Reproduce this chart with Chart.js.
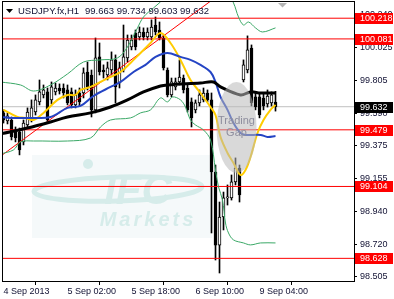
<!DOCTYPE html>
<html>
<head>
<meta charset="utf-8">
<script src="https://cdn.jsdelivr.net/npm/chart.js@4.4.1/dist/chart.umd.min.js"></script>
<style>
html,body{margin:0;padding:0;background:#fff;}
canvas{display:block;}
</style>
</head>
<body>
<canvas id="c" width="394" height="299"></canvas>
<script>
// ---- data (USDJPY.fx, H1) ----
const opens  = [99.591,99.538,99.544,99.478,99.465,99.399,99.511,99.544,99.597,99.664,99.710,99.730,99.677,99.730,99.756,99.756,99.743,99.730,99.644,99.723,
                99.723,99.862,99.842,99.611,99.962,99.875,99.842,99.875,99.942,99.789,99.875,99.955,100.028,100.120,100.094,100.127,100.094,100.094,100.173,100.140,
                100.087,99.875,99.710,99.763,99.796,99.822,99.756,99.664,99.611,99.657,99.677,99.723,99.677,99.200,98.716,98.902,99.028,99.028,99.134,99.226,
                99.809,99.875,100.021,99.697,99.697,99.690,99.650,99.657,99.663];
const highs  = [99.611,99.591,99.564,99.498,99.491,99.544,99.624,99.677,99.710,99.809,99.776,99.756,99.796,99.789,99.783,99.783,99.776,99.756,99.743,99.756,
                99.889,99.928,99.875,100.087,100.054,99.909,99.928,99.995,99.975,99.928,100.173,100.107,100.107,100.140,100.160,100.154,100.154,100.207,100.226,100.193,
                100.107,99.889,99.822,99.822,99.942,99.842,99.776,99.690,99.677,99.743,99.756,99.743,99.723,99.246,99.001,99.067,99.114,99.180,99.293,99.246,
                99.942,100.101,100.041,99.723,99.716,99.723,99.743,99.730,99.734];
const lows   = [99.524,99.518,99.412,99.399,99.313,99.379,99.491,99.531,99.577,99.644,99.690,99.531,99.650,99.710,99.716,99.690,99.644,99.624,99.624,99.637,
                99.690,99.743,99.564,99.591,99.842,99.822,99.809,99.842,99.657,99.756,99.862,99.928,100.008,100.008,100.074,100.074,100.074,100.074,100.107,100.074,
                99.875,99.697,99.697,99.743,99.776,99.723,99.597,99.498,99.591,99.637,99.664,99.664,98.796,98.617,98.531,98.816,98.981,99.014,99.114,99.001,
                99.796,99.856,99.637,99.611,99.558,99.611,99.630,99.637,99.603];
const closes = [99.544,99.571,99.432,99.425,99.346,99.524,99.597,99.624,99.677,99.730,99.743,99.544,99.763,99.756,99.736,99.723,99.657,99.644,99.710,99.664,
                99.856,99.763,99.611,99.955,99.862,99.862,99.889,99.942,99.763,99.889,99.962,100.074,100.074,100.028,100.127,100.094,100.127,100.160,100.127,100.087,
                99.889,99.710,99.796,99.796,99.829,99.743,99.611,99.558,99.657,99.710,99.723,99.677,99.200,98.716,98.902,99.028,99.034,99.134,99.226,99.048,
                99.909,100.008,99.657,99.630,99.577,99.637,99.703,99.710,99.632];

// indicator lines: [bar index, price]
const maFast = [[0,99.611],[3.5,99.564],[5.5,99.558],[7.5,99.544],[10,99.591],[13.5,99.677],[16,99.710],[18,99.710],[19.25,99.743],[21.75,99.763],
                [24.25,99.796],[26.75,99.829],[29.25,99.862],[31.75,99.922],[34.25,99.988],[36.75,100.054],[39.25,100.120],[41.75,100.054],[44.25,99.942],
                [46.75,99.809],[49.25,99.723],[51.75,99.630],[53,99.577],[54.25,99.432],[56,99.326],[57.5,99.260],[59.25,99.180],[60.5,99.213],[61.75,99.299],
                [63.5,99.458],[65,99.544],[66.75,99.611],[68,99.644]];
const maMid  = [[-0.75,99.564],[1.75,99.558],[7.5,99.558],[11.75,99.564],[16,99.624],[19.25,99.637],[22.5,99.703],[26.75,99.763],[29.25,99.796],
                [32.5,99.862],[35.5,99.909],[38,99.962],[41,99.988],[44.25,99.962],[46.75,99.942],[49.25,99.909],[51.75,99.862],[53,99.796],[54.25,99.697],
                [56,99.611],[57.5,99.524],[59.25,99.458],[60.5,99.445],[64.25,99.445],[66,99.432],[68,99.438]];
const maSlow = [[-0.75,99.452],[6,99.491],[11.75,99.531],[16,99.564],[21.75,99.591],[26.75,99.630],[31,99.677],[35,99.730],[39.25,99.769],[41,99.776],
                [49.25,99.789],[52.5,99.796],[54.25,99.763],[59.25,99.710],[61.75,99.730],[64.25,99.723],[68,99.723]];
const bandUp = [[-0.75,99.796],[4.25,99.776],[7.5,99.736],[11.75,99.776],[16,99.849],[20,99.928],[24.25,99.942],[28.5,99.955],[31,100.028],[33.5,100.154],
                [35,100.226],[37.5,100.286],[39.25,100.326],[43,100.418],[49.25,100.471],[55.5,100.405],[57.5,100.319],[58.75,100.226],[60,100.173],
                [61.25,100.193],[63,100.154],[64.75,100.127],[68,100.154]];
const bandLow= [[-0.75,99.319],[2.5,99.346],[4.25,99.399],[7.5,99.405],[16,99.405],[21.75,99.425],[24.25,99.498],[26.75,99.544],[31.75,99.558],
                [34.25,99.591],[36.75,99.611],[39.25,99.690],[41,99.664],[42.25,99.697],[44.25,99.677],[45.5,99.630],[46.75,99.544],[48,99.511],[50,99.478],
                [51.75,99.412],[53,99.213],[53.75,99.101],[54.75,99.015],[55.5,98.862],[56.25,98.796],[57.5,98.750],[60,98.730],[61.75,98.717],[64.25,98.730],[68,98.730]];
const trendLine = [[-1,99.299],[56,100.414]];
const levels = [100.218, 100.081, 99.479, 99.104, 98.628];
const lastPrice = 99.632;
const yTicks = [100.240, 100.025, 99.805, 99.590, 99.375, 99.155, 98.940, 98.720, 98.505];
const xTickPos = [0, 16, 32, 48, 64];
const xTickLabels = ['4 Sep 2013', '5 Sep 02:00', '5 Sep 18:00', '6 Sep 10:00', '9 Sep 04:00'];
const title = 'USDJPY.fx,H1';
const titleQuote = '99.663 99.734 99.603 99.632';
const gapNote = {x: 58.25, y: 99.494, rx: 5, ry: 0.301, lines: ['Trading', 'Gap']};

// ---- build ----
const FONT = 'Liberation Sans, Arial, sans-serif';
const pts = a => a.map(p => ({x: p[0], y: p[1]}));
const idx = opens.map((_, i) => i);
const lineDs = (data, color, w, extra) => Object.assign({
  type: 'line', data: pts(data), borderColor: color, borderWidth: w, pointRadius: 0,
  tension: 0.35, fill: false, order: -1
}, extra || {});

const datasets = [
  {type:'bar', data: idx.map(i => ({x:i, y:[lows[i], highs[i]]})), backgroundColor:'#000', borderWidth:0,
   barThickness:1, grouped:false, order:3},
  {type:'bar', data: idx.map(i => ({x:i, y:[opens[i], closes[i]]})),
   backgroundColor: idx.map(i => closes[i] >= opens[i] ? '#fff' : '#000'),
   borderColor:'#000', borderWidth:1, borderSkipped:false, barThickness:3, minBarLength:1, grouped:false, order:2},
  lineDs(bandUp, '#3aa866', 1),
  lineDs(bandLow, '#3aa866', 1),
  lineDs(maSlow, '#000', 3),
  lineDs(maMid, '#2444c4', 2),
  lineDs(maFast, '#ffcc00', 2),
  lineDs(trendLine, '#ff0000', 1, {tension:0}),
  lineDs([[-1,lastPrice],[90,lastPrice]], '#c0c0c0', 1, {tension:0, order:4}),
];
levels.forEach(l => datasets.push(lineDs([[-1,l],[90,l]], '#ff0000', 1, {tension:0})));

const deco = {
  id: 'deco',
  beforeDatasetsDraw(chart) {
    const ctx = chart.ctx;
    ctx.save();
    // watermark
    ctx.fillStyle = '#f5f9fa';
    ctx.fillRect(32, 155, 180, 83);
    ctx.strokeStyle = '#d6ecea';
    ctx.lineWidth = 5;
    ctx.beginPath();
    ctx.ellipse(118, 189, 84, 12, -0.03, 0, Math.PI * 2);
    ctx.stroke();
    ctx.fillStyle = '#d6ecea';
    ctx.font = 'bold italic 42px ' + FONT;
    ctx.textAlign = 'center';
    ctx.textBaseline = 'alphabetic';
    ctx.fillText('IFC', 138, 204);
    ctx.beginPath();
    ctx.arc(88, 164, 5, 0, Math.PI * 2);
    ctx.fill();
    ctx.font = 'bold italic 20px ' + FONT;
    try { ctx.letterSpacing = '3px'; } catch (e) {}
    ctx.fillText('Markets', 148, 226);
    try { ctx.letterSpacing = '0px'; } catch (e) {}
    ctx.restore();
  },
  afterDatasetsDraw(chart) {
    const ctx = chart.ctx, xs = chart.scales.x, ys = chart.scales.y;
    ctx.save();
    const cx = xs.getPixelForValue(gapNote.x), cy = ys.getPixelForValue(gapNote.y);
    const rx = xs.getPixelForValue(gapNote.x + gapNote.rx) - cx;
    const ry = cy - ys.getPixelForValue(gapNote.y + gapNote.ry);
    ctx.fillStyle = 'rgba(185,185,185,0.55)';
    ctx.beginPath();
    ctx.ellipse(cx, cy, rx, ry, 0, 0, Math.PI * 2);
    ctx.fill();
    ctx.fillStyle = '#8e8e9e';
    ctx.font = '11px ' + FONT;
    ctx.textAlign = 'center';
    ctx.textBaseline = 'middle';
    ctx.fillText(gapNote.lines[0], cx, cy - 7);
    ctx.fillText(gapNote.lines[1], cx, cy + 5);
    ctx.restore();
  },
  afterDraw(chart) {
    const ctx = chart.ctx, a = chart.chartArea, ys = chart.scales.y;
    ctx.save();
    // frame
    ctx.strokeStyle = '#000';
    ctx.lineWidth = 1;
    ctx.strokeRect(a.left + 0.5, a.top + 0.5, a.right - a.left, a.bottom - a.top);
    // price labels
    ctx.font = '9px ' + FONT;
    ctx.textBaseline = 'middle';
    ctx.textAlign = 'left';
    const tag = (v, bg) => {
      const y = ys.getPixelForValue(v);
      ctx.fillStyle = bg;
      ctx.fillRect(a.right + 1, Math.round(y) - 5, 38, 11);
      ctx.fillStyle = '#fff';
      ctx.fillText(v.toFixed(3), a.right + 6, Math.round(y) + 0.5);
    };
    levels.forEach(l => tag(l, '#ff0000'));
    tag(lastPrice, '#000');
    // title
    ctx.fillStyle = '#000';
    ctx.beginPath();
    ctx.moveTo(6, 9); ctx.lineTo(13, 9); ctx.lineTo(9.5, 13); ctx.closePath();
    ctx.fill();
    ctx.fillStyle = '#111133';
    ctx.font = '9.5px ' + FONT;
    ctx.fillText(title, 18, 11);
    ctx.fillText(titleQuote, 85, 11);
    // shift marker
    ctx.fillStyle = '#b4b4b4';
    ctx.beginPath();
    ctx.moveTo(278, 3); ctx.lineTo(287, 3); ctx.lineTo(282.5, 7.5); ctx.closePath();
    ctx.fill();
    ctx.restore();
  }
};

new Chart(document.getElementById('c'), {
  type: 'bar',
  data: {datasets},
  options: {
    responsive: false,
    animation: false,
    events: [],
    layout: {padding: {left: 2, top: 1, right: 0, bottom: 0}},
    plugins: {legend: {display: false}, tooltip: {enabled: false}},
    scales: {
      x: {
        type: 'linear', min: -0.375, max: 87.625, offset: false,
        grid: {drawOnChartArea: false, drawTicks: true, tickLength: 4, color: '#000'},
        border: {display: true, color: '#000'},
        ticks: {align: 'start', autoSkip: false, maxRotation: 0, padding: 1, color: '#111133',
                font: {family: FONT, size: 9}, callback: (v, i) => xTickLabels[i]},
        afterBuildTicks: s => { s.ticks = xTickPos.map(v => ({value: v})); },
        afterFit: s => { s.height = 18; s.paddingLeft = 0; s.paddingRight = 0; }
      },
      y: {
        position: 'right', min: 98.478, max: 100.332,
        grid: {drawOnChartArea: false, drawTicks: true, tickLength: 3, color: '#000'},
        border: {display: true, color: '#000'},
        ticks: {padding: 3, color: '#111133', font: {family: FONT, size: 9},
                callback: v => Number(v).toFixed(3)},
        afterBuildTicks: s => { s.ticks = yTicks.map(v => ({value: v})); },
        afterFit: s => { s.width = 40; s.paddingTop = 0; s.paddingBottom = 0; }
      }
    }
  },
  plugins: [deco]
});
</script>
</body>
</html>
